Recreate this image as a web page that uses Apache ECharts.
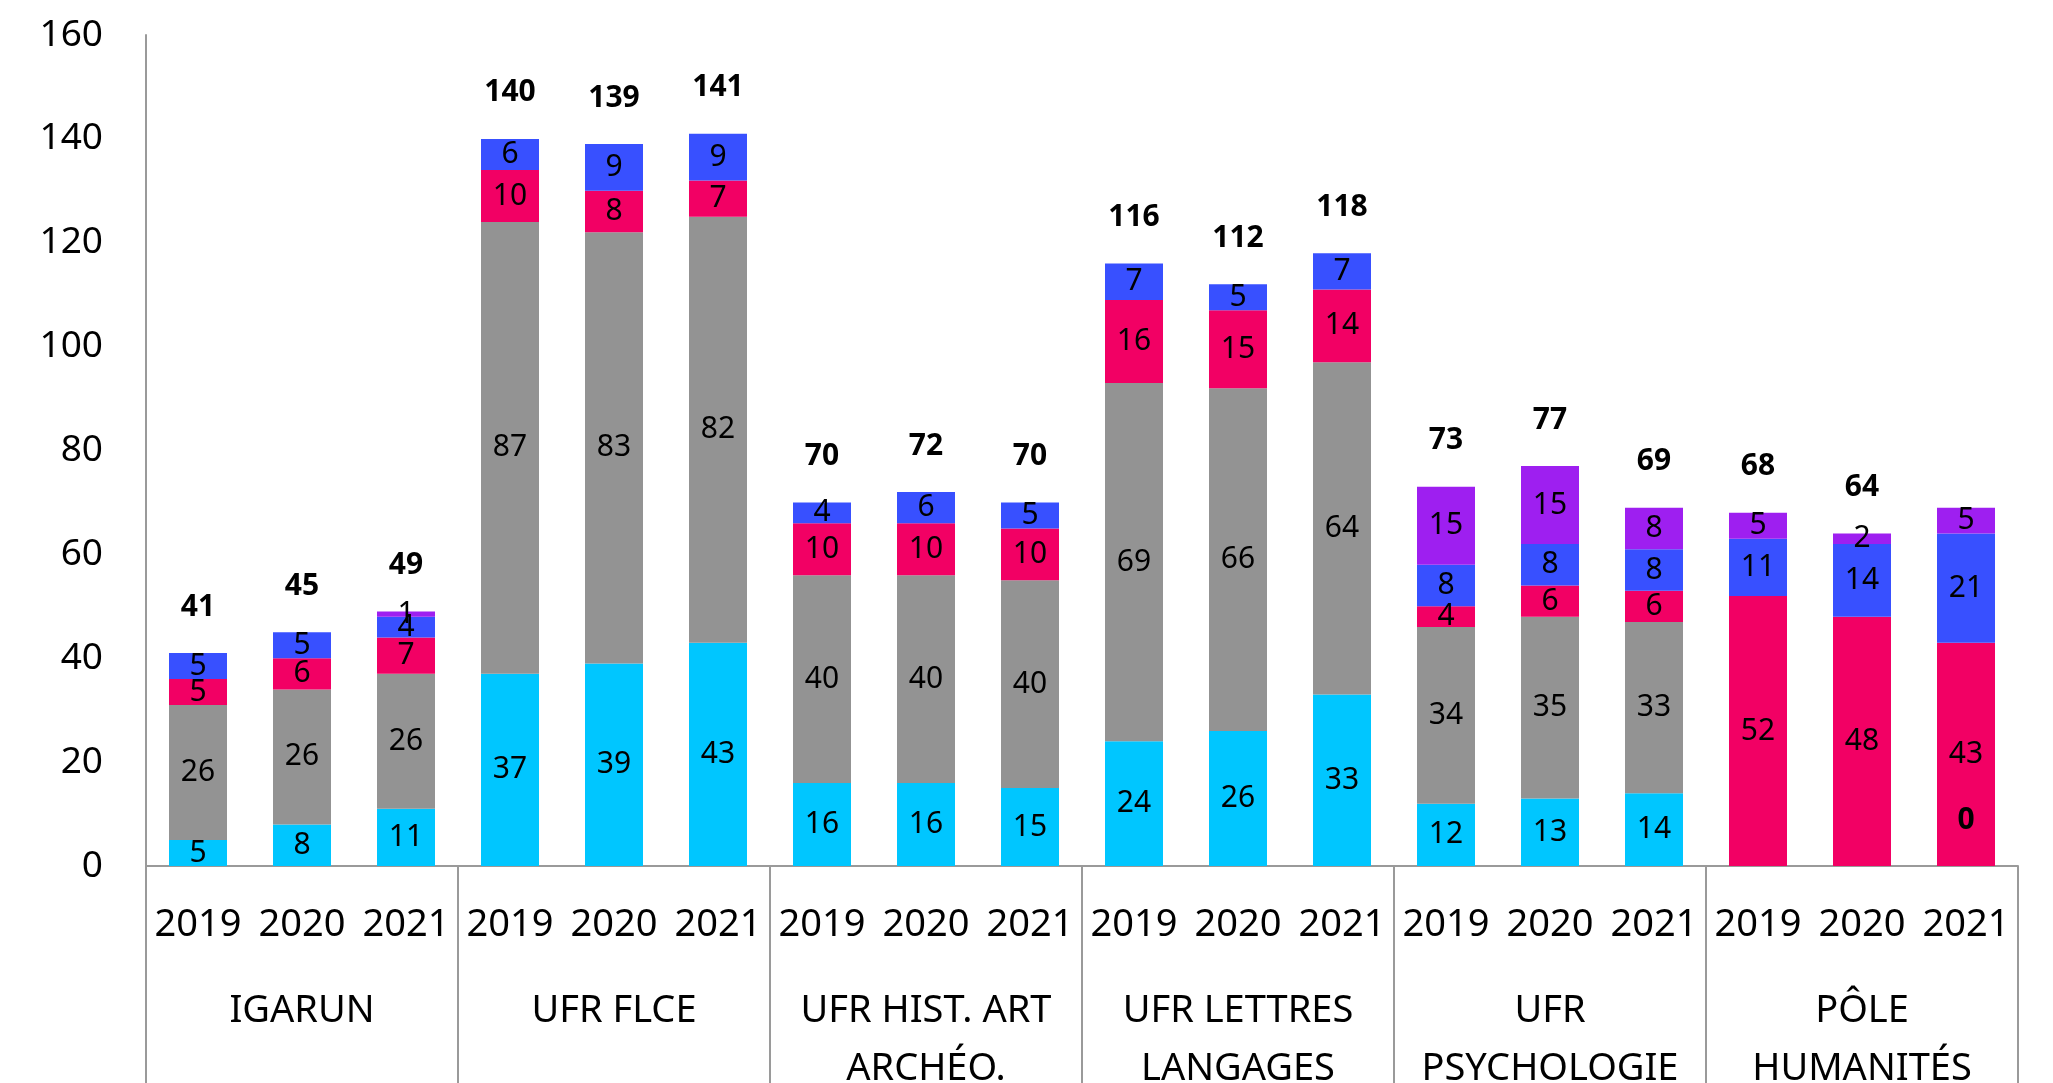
<!DOCTYPE html>
<html>
<head>
<meta charset="utf-8">
<script src="https://cdn.jsdelivr.net/npm/echarts@6/dist/echarts.min.js"></script>
<style>html,body{margin:0;padding:0;background:#fff}#chart{width:2053px;height:1083px}</style>
</head>
<body>
<div id="chart"></div>
<script>
const years = ['2019','2020','2021','2019','2020','2021','2019','2020','2021','2019','2020','2021','2019','2020','2021','2019','2020','2021'];
const groups = ['IGARUN','UFR FLCE','UFR HIST. ART\nARCHÉO.','UFR LETTRES\nLANGAGES','UFR\nPSYCHOLOGIE','PÔLE\nHUMANITÉS'];
const cyanValues   = [5,8,11,37,39,43,16,16,15,24,26,33,12,13,14,0,0,0];
const grayValues   = [26,26,26,87,83,82,40,40,40,69,66,64,34,35,33,0,0,0];
const pinkValues   = [5,6,7,10,8,7,10,10,10,16,15,14,4,6,6,52,48,43];
const blueValues   = [5,5,4,6,9,9,4,6,5,7,5,7,8,8,8,11,14,21];
const purpleValues = [0,0,1,0,0,0,0,0,0,0,0,0,15,15,8,5,2,5];
const totals       = [41,45,49,140,139,141,70,72,70,116,112,118,73,77,69,68,64,0];
const yTicks = {min:0, max:160, interval:20};

const FONT = 'Noto Sans';
const chart = echarts.init(document.getElementById('chart'));
function seg(name, data, color){
  return {
    name, type:'bar', stack:'s', data, barWidth:58,
    itemStyle:{color},
    label:{show:true, position:'inside', color:'#000', fontFamily:FONT, fontSize:30,
      formatter:p=>p.value>0?String(p.value):''}
  };
}
chart.setOption({
  animation:false,
  textStyle:{fontFamily:FONT},
  grid:{left:146, right:35, top:35, bottom:217, containLabel:false, outerBoundsMode:'none'},
  xAxis:[
    {type:'category', data:years, position:'bottom',
      axisLine:{show:true, lineStyle:{color:'#9a9a9a', width:2}},
      axisTick:{show:false},
      axisLabel:{interval:0, margin:38, color:'#000', fontFamily:FONT, fontSize:38, lineHeight:42}},
    {type:'category', data:groups, position:'bottom',
      axisLine:{show:false},
      axisTick:{show:true, length:217, lineStyle:{color:'#9a9a9a', width:2}},
      axisLabel:{interval:0, margin:116, color:'#000', fontFamily:FONT, fontSize:38, lineHeight:58}}
  ],
  yAxis:{type:'value', min:yTicks.min, max:yTicks.max, interval:yTicks.interval,
    axisLine:{show:true, lineStyle:{color:'#9a9a9a', width:2}},
    axisTick:{show:false}, splitLine:{show:false},
    axisLabel:{margin:43, color:'#000', fontFamily:FONT, fontSize:37}},
  series:[
    seg('s1', cyanValues, '#00C6FF'),
    seg('s2', grayValues, '#939393'),
    seg('s3', pinkValues, '#F20064'),
    seg('s4', blueValues, '#3850FF'),
    seg('s5', purpleValues, '#9E1FF0'),
    {name:'total', type:'line', data:totals, symbol:'circle', symbolSize:2,
      itemStyle:{color:'transparent'}, lineStyle:{color:'transparent', width:0}, z:10,
      label:{show:true, position:'top', distance:30, color:'#000', fontFamily:FONT, fontSize:30, fontWeight:'bold'}}
  ]
});
</script>
</body>
</html>
